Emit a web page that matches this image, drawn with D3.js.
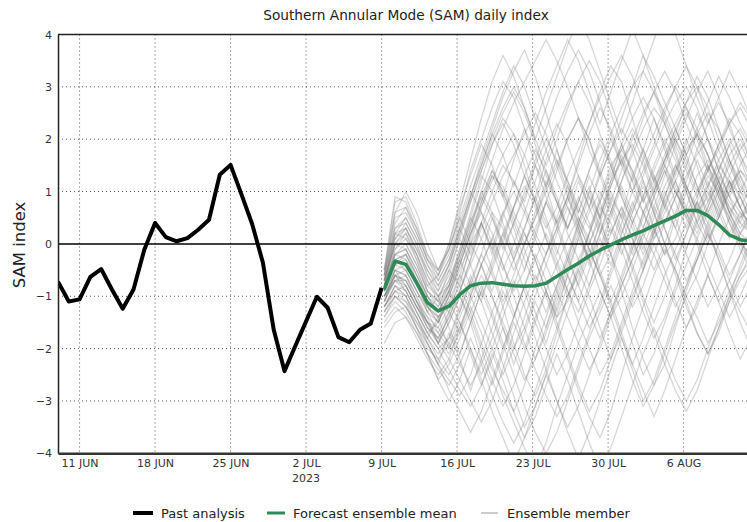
<!DOCTYPE html>
<html><head><meta charset="utf-8">
<script src="https://cdn.jsdelivr.net/npm/d3@7"></script>
<style>body{margin:0;background:#fff}svg{display:block;font-family:"DejaVu Sans",sans-serif}</style>
</head><body><svg id="c" width="747" height="522"></svg>
<script>
const title = "Southern Annular Mode (SAM) daily index";
const yLabel = "SAM index";
const yTicks = [-4,-3,-2,-1,0,1,2,3,4];
const xTickDates = ["2023-06-11","2023-06-18","2023-06-25","2023-07-02","2023-07-09","2023-07-16","2023-07-23","2023-07-30","2023-08-06"];
const xTickLabels = ["11 JUN","18 JUN","25 JUN","2 JUL","9 JUL","16 JUL","23 JUL","30 JUL","6 AUG"];
const pastStart = "2023-06-09T00:00Z";
const pastValues = [-0.72,-1.10,-1.06,-0.63,-0.48,-0.87,-1.24,-0.87,-0.11,0.40,0.13,0.05,0.11,0.27,0.46,1.32,1.51,0.95,0.38,-0.36,-1.64,-2.43,-1.95,-1.48,-1.01,-1.22,-1.78,-1.88,-1.64,-1.52,-0.84];
const fcStart = "2023-07-09T06:00Z";
const meanValues = [-0.87,-0.33,-0.39,-0.74,-1.12,-1.28,-1.19,-0.97,-0.80,-0.75,-0.74,-0.77,-0.80,-0.81,-0.80,-0.75,-0.62,-0.49,-0.37,-0.23,-0.12,-0.02,0.08,0.17,0.25,0.35,0.44,0.53,0.64,0.64,0.54,0.37,0.17,0.08,0.05];
const members = [
[-0.9,-0.2,-0.1,-0.5,-1.0,-1.4,-1.2,-0.6,0.1,0.8,1.3,1.1,0.6,0.2,-0.3,-0.9,-1.4,-1.1,-0.5,0.2,0.9,1.5,1.8,1.4,0.9,0.3,-0.2,0.1,0.7,1.3,1.6,1.2,0.6,0.1,-0.3],
[-0.7,0.1,0.4,0.0,-0.6,-1.0,-0.8,-0.2,0.5,1.2,1.9,2.4,2.1,1.5,0.8,0.1,-0.4,-0.9,-1.3,-0.8,-0.1,0.6,1.2,1.7,2.2,2.6,2.3,1.8,1.1,0.6,0.9,1.4,1.9,2.2,1.8],
[-1.2,-0.8,-0.9,-1.3,-1.7,-2.0,-1.8,-1.3,-0.7,-0.2,-0.6,-1.2,-1.9,-2.5,-2.9,-2.4,-1.7,-1.0,-0.4,0.2,0.7,0.4,-0.1,-0.7,-1.3,-1.8,-1.4,-0.8,-0.1,0.5,1.1,1.5,1.2,0.7,0.3],
[-0.5,0.6,1.0,0.6,0.0,-0.5,-0.1,0.6,1.4,2.0,2.6,3.1,2.8,2.2,1.5,0.9,0.4,0.9,1.6,2.3,2.9,3.4,3.1,2.4,1.7,1.2,1.6,2.1,2.7,3.2,2.8,2.2,1.6,1.1,0.8],
[-1.0,-0.6,-0.8,-1.2,-1.5,-1.6,-1.2,-0.8,-1.3,-1.9,-2.4,-2.8,-3.2,-2.7,-2.0,-1.4,-0.8,-0.3,0.3,0.9,0.5,-0.2,-0.9,-1.6,-2.2,-2.7,-2.3,-1.6,-0.9,-0.3,0.2,-0.3,-0.9,-1.5,-2.0],
[-0.8,-0.3,-0.2,-0.6,-1.1,-1.3,-0.9,-0.4,0.2,0.6,0.2,-0.4,-0.9,-0.5,0.1,0.8,1.4,2.0,2.4,2.0,1.3,0.7,0.2,0.7,1.3,1.8,2.3,2.7,3.0,2.6,2.0,1.4,0.9,0.6,0.4],
[-1.1,-0.5,-0.6,-1.0,-1.5,-1.9,-2.2,-2.6,-3.0,-3.4,-3.0,-2.4,-1.7,-1.1,-0.6,-1.0,-1.6,-2.2,-2.8,-3.3,-3.7,-3.2,-2.5,-1.8,-1.2,-0.6,-0.1,-0.5,-1.1,-1.7,-2.1,-1.6,-1.0,-0.4,0.1],
[-0.6,0.3,0.5,0.1,-0.4,-0.7,-0.3,0.3,0.9,1.6,2.2,2.8,3.3,3.7,3.2,2.5,1.8,1.1,0.5,0.0,0.5,1.1,1.6,1.2,0.6,0.1,0.4,0.9,1.5,2.1,2.5,2.2,1.6,1.0,0.6],
[-1.3,-1.0,-1.1,-1.4,-1.8,-2.2,-2.5,-2.1,-1.5,-0.9,-0.3,0.2,0.7,1.1,0.7,0.1,-0.5,-1.0,-0.6,0.0,0.6,1.2,1.6,1.9,1.5,0.9,0.3,-0.3,0.2,0.8,1.3,1.0,0.4,-0.1,-0.5],
[-0.9,-0.4,-0.5,-0.9,-1.3,-1.5,-1.0,-0.5,0.0,-0.4,-1.0,-1.6,-2.1,-2.6,-2.2,-1.6,-1.0,-0.4,0.2,0.7,1.3,1.8,2.2,1.8,1.2,0.6,0.0,-0.5,-1.0,-0.6,0.0,0.6,1.1,1.4,1.2],
[-0.7,0.2,0.3,-0.2,-0.7,-1.1,-1.3,-0.9,-0.3,0.4,1.0,1.5,1.2,0.7,0.2,-0.2,0.3,0.9,1.5,2.1,2.6,2.2,1.6,1.0,1.4,1.9,2.5,3.0,3.4,3.0,2.4,1.8,1.3,0.9,0.5],
[-1.0,-0.7,-0.7,-1.1,-1.6,-1.8,-1.4,-0.9,-0.4,0.1,0.6,0.3,-0.3,-0.9,-1.5,-2.0,-2.5,-2.1,-1.5,-0.9,-0.4,0.2,0.7,0.3,-0.2,0.3,0.9,1.4,1.8,2.1,1.7,1.1,0.6,0.2,0.0],
[-0.8,0.0,0.0,-0.4,-0.9,-1.2,-0.8,-0.1,0.6,1.3,1.0,0.4,-0.2,0.3,0.9,1.6,2.2,2.7,3.1,2.7,2.1,1.5,0.9,0.4,0.9,1.5,2.0,1.6,1.0,0.4,0.0,0.5,1.0,1.5,1.9],
[-1.4,-1.1,-1.3,-1.7,-2.1,-2.4,-2.7,-2.3,-1.8,-2.3,-2.9,-3.4,-3.8,-3.4,-2.8,-2.2,-1.6,-1.0,-0.5,-1.0,-1.6,-2.2,-1.7,-1.1,-0.5,0.1,0.6,1.0,0.6,0.0,-0.6,-1.1,-0.7,-0.2,0.3],
[-0.6,0.4,0.7,0.3,-0.2,-0.5,0.0,0.7,1.3,1.9,1.5,0.9,0.3,-0.3,-0.8,-1.3,-0.8,-0.2,0.4,1.0,1.6,2.1,2.6,3.0,3.3,2.9,2.3,1.7,1.1,0.7,1.1,1.6,2.0,1.6,1.1],
[-0.9,-0.5,-0.4,-0.8,-1.2,-1.4,-1.1,-1.5,-2.0,-2.5,-2.0,-1.4,-0.8,-0.2,0.3,0.8,0.4,-0.2,-0.8,-1.3,-1.8,-1.3,-0.7,-0.1,0.5,1.0,1.5,1.1,0.5,0.9,1.4,1.9,2.3,2.6,2.2],
[-1.1,-0.6,-0.9,-1.3,-1.7,-1.5,-1.0,-0.4,0.2,0.7,1.2,1.7,2.1,1.7,1.1,0.5,-0.1,-0.6,-1.1,-1.6,-1.2,-0.6,0.0,0.6,1.1,0.6,0.0,-0.6,-1.2,-1.7,-2.1,-1.7,-1.1,-0.6,-0.2],
[-0.5,0.8,0.9,0.4,-0.2,-0.6,-0.2,0.4,1.0,0.6,0.0,-0.5,0.0,0.6,1.2,1.8,2.3,1.9,1.3,0.7,0.2,0.6,1.2,1.8,2.4,2.9,3.3,2.9,2.3,1.8,1.4,1.8,2.3,2.7,2.4],
[-1.2,-0.9,-1.0,-1.4,-1.8,-2.1,-1.8,-1.2,-0.6,-1.1,-1.7,-2.3,-2.9,-3.5,-3.1,-2.5,-1.9,-1.3,-0.7,-0.1,-0.6,-1.2,-1.8,-2.4,-3.0,-2.6,-2.0,-1.4,-0.8,-0.3,0.2,-0.2,-0.7,-1.2,-0.8],
[-0.8,-0.1,0.1,-0.3,-0.8,-1.0,-0.6,0.1,0.8,1.4,2.0,2.5,2.9,2.5,1.9,1.3,0.8,0.3,0.8,1.4,2.0,1.6,1.0,0.5,0.0,-0.5,0.0,0.6,1.2,1.8,2.3,2.7,2.3,1.7,1.2],
[-1.0,-0.5,-0.6,-1.0,-1.4,-1.6,-1.9,-2.3,-2.7,-2.3,-1.8,-1.2,-0.7,-1.2,-1.8,-2.4,-3.0,-3.5,-3.1,-2.5,-1.9,-1.3,-0.8,-0.3,0.2,0.7,0.3,-0.2,-0.7,-0.3,0.3,0.8,1.2,0.9,0.4],
[-0.7,0.0,0.2,-0.2,-0.7,-1.0,-0.7,-0.2,0.4,0.9,1.4,1.0,0.5,0.0,0.5,1.1,1.6,1.2,0.7,0.3,0.8,1.3,1.8,2.2,1.8,1.3,0.8,1.2,1.7,2.1,1.7,1.2,0.8,0.5,0.7],
[-1.5,-1.2,-1.4,-1.8,-2.2,-2.5,-2.2,-1.6,-1.0,-0.4,0.1,-0.4,-1.0,-1.6,-2.2,-1.7,-1.1,-0.5,0.1,0.6,1.0,0.6,0.1,-0.5,-1.1,-1.7,-2.3,-2.8,-3.2,-2.8,-2.2,-1.6,-1.1,-0.7,-0.4],
[-0.8,-0.2,-0.3,-0.7,-1.1,-1.3,-0.9,-0.3,0.3,0.9,0.5,-0.1,0.4,1.0,1.6,2.2,2.8,3.3,3.7,3.3,2.7,2.1,1.5,1.0,0.6,1.0,1.5,2.0,2.5,2.1,1.5,0.9,0.4,0.0,-0.2],
[-1.0,-0.6,-0.5,-0.9,-1.3,-1.7,-2.0,-1.6,-1.1,-0.6,-1.0,-1.5,-2.0,-1.6,-1.0,-0.4,0.2,0.7,0.3,-0.3,-0.9,-1.4,-1.0,-0.5,0.1,0.6,1.1,1.5,1.1,0.6,0.1,0.5,1.0,1.4,1.1],
[-0.6,0.5,0.6,0.2,-0.3,-0.5,-0.1,0.5,1.1,1.7,2.3,2.9,3.4,3.0,2.4,1.8,1.2,0.7,0.2,-0.3,0.2,0.8,1.4,2.0,2.5,2.9,2.5,2.0,1.5,1.0,1.4,1.9,2.4,2.1,1.6],
[-1.2,-0.8,-1.0,-1.4,-1.9,-2.3,-2.6,-2.9,-2.5,-1.9,-1.3,-0.8,-0.3,0.2,-0.3,-0.9,-1.5,-2.1,-2.7,-3.2,-2.8,-2.2,-1.6,-1.0,-0.5,0.0,-0.5,-1.1,-1.6,-1.2,-0.6,0.0,0.5,0.1,-0.4],
[-0.9,-0.3,-0.2,-0.6,-1.0,-1.2,-0.7,-0.1,0.5,0.1,-0.5,-1.1,-0.6,0.0,0.6,1.2,0.8,0.2,-0.3,0.2,0.8,1.4,1.9,2.4,2.8,2.4,1.8,1.2,0.7,0.3,0.7,1.2,1.7,2.0,1.6],
[-1.3,-1.0,-1.2,-1.6,-2.0,-2.2,-1.9,-1.4,-0.9,-0.4,0.1,0.6,1.0,0.6,0.1,-0.4,-0.9,-1.4,-1.9,-2.4,-2.0,-1.4,-0.8,-0.3,0.2,-0.2,-0.7,-1.2,-0.8,-0.2,0.4,0.9,0.5,0.0,-0.4],
[-0.7,0.3,0.4,0.0,-0.5,-0.8,-0.4,0.2,0.8,1.4,1.9,2.3,1.9,1.3,0.8,0.3,0.7,1.3,1.8,2.3,2.8,3.2,3.6,3.2,2.6,2.0,1.5,1.0,0.6,1.0,1.5,1.1,0.6,0.2,0.5],
[-1.1,-0.7,-0.8,-1.2,-1.6,-1.9,-1.5,-1.0,-1.4,-2.0,-2.6,-3.1,-2.7,-2.1,-1.5,-0.9,-0.4,0.1,0.5,0.1,-0.5,-1.1,-1.7,-2.3,-1.8,-1.2,-0.6,-0.1,0.4,0.8,0.4,-0.1,-0.6,-0.2,0.3],
[-0.9,-0.4,-0.3,-0.7,-1.2,-1.4,-1.0,-0.4,0.2,0.8,1.4,1.0,0.4,0.9,1.5,2.0,1.6,1.0,0.4,-0.1,-0.6,-0.2,0.4,1.0,1.6,2.1,2.6,3.0,2.6,2.0,1.4,0.9,1.3,1.8,2.1],
[-1.6,-1.3,-1.2,-1.5,-1.9,-2.3,-2.8,-3.2,-3.6,-3.2,-2.6,-2.0,-1.4,-0.8,-0.3,0.2,-0.3,-0.9,-1.5,-2.0,-2.5,-2.1,-1.5,-0.9,-0.3,0.2,0.7,0.3,-0.2,-0.7,-1.2,-0.8,-0.3,0.2,0.6],
[-0.8,0.1,0.3,-0.1,-0.6,-0.9,-0.5,0.1,-0.4,-1.0,-0.5,0.1,0.7,1.3,1.8,1.4,0.8,0.3,0.8,1.4,1.9,1.5,0.9,0.4,0.9,1.4,1.9,2.3,2.7,3.0,2.6,2.0,1.5,1.0,0.8],
[-1.0,-0.6,-0.7,-1.1,-1.5,-1.7,-1.3,-0.7,-0.1,0.4,-0.1,-0.7,-1.3,-1.9,-2.4,-2.9,-3.3,-2.9,-2.3,-1.7,-1.1,-0.5,0.1,-0.4,-1.0,-1.5,-1.0,-0.4,0.2,0.7,0.3,-0.3,-0.9,-0.5,0.0],
[-0.5,0.9,0.8,0.3,-0.3,-0.7,-0.3,0.3,0.9,1.5,2.1,2.6,3.0,2.6,2.0,1.5,2.0,2.6,3.1,3.5,3.1,2.5,1.9,1.3,0.8,1.2,1.7,2.2,2.6,2.2,1.7,1.2,0.7,0.4,0.2],
[-1.2,-0.9,-0.8,-1.2,-1.6,-1.8,-2.1,-1.7,-1.2,-1.7,-2.3,-2.9,-3.4,-3.9,-4.3,-3.8,-3.1,-2.5,-1.9,-1.4,-0.9,-1.4,-2.0,-2.6,-3.1,-2.7,-2.1,-1.5,-1.0,-1.4,-1.9,-1.5,-1.0,-0.6,-0.3],
[-0.8,-0.2,0.0,-0.4,-0.9,-1.1,-0.8,-0.2,0.4,1.0,0.6,0.0,-0.5,0.0,0.5,1.0,1.5,2.0,2.4,2.0,1.4,0.8,0.3,-0.2,0.3,0.9,1.4,1.0,0.5,0.1,0.6,1.1,0.7,0.3,0.6],
[-1.1,-0.6,-0.7,-1.1,-1.5,-1.8,-1.4,-0.9,-0.3,0.3,0.8,1.3,1.7,2.1,2.5,2.1,1.5,0.9,0.4,-0.1,-0.6,-1.1,-0.6,0.0,0.6,1.1,1.6,2.0,1.6,1.1,0.6,1.0,1.5,1.9,1.5],
[-0.9,-0.3,-0.4,-0.8,-1.2,-1.5,-1.1,-0.6,-1.0,-1.5,-2.0,-2.5,-2.0,-1.4,-0.8,-0.2,0.3,0.8,1.3,0.9,0.3,-0.2,-0.7,-1.2,-0.8,-0.2,0.4,0.9,1.3,1.7,2.0,1.6,1.1,0.7,0.3],
[-0.6,0.6,0.7,0.2,-0.3,-0.6,0.0,0.8,1.6,2.4,3.1,3.6,3.2,2.6,2.0,2.6,3.2,3.8,4.3,3.9,3.3,2.7,2.1,2.7,3.3,3.9,4.4,4.0,3.4,2.8,2.3,2.8,3.3,2.9,2.4],
[-1.3,-0.9,-1.1,-1.6,-2.1,-2.6,-3.0,-2.6,-2.0,-2.6,-3.2,-3.7,-4.2,-3.7,-3.1,-2.5,-3.0,-3.6,-4.1,-3.6,-3.0,-2.4,-1.8,-2.3,-2.8,-3.3,-2.8,-2.2,-1.6,-1.1,-0.6,-1.1,-1.7,-2.2,-1.8],
[-0.8,0.2,0.5,0.1,-0.4,-0.8,-0.4,0.2,0.9,1.5,2.1,1.7,1.1,1.7,2.3,2.9,3.4,3.9,3.5,2.9,2.3,2.9,3.5,4.1,3.6,3.0,2.4,1.9,2.4,2.9,3.3,2.8,2.2,1.7,1.3],
[-1.0,-0.7,-0.9,-1.3,-1.7,-2.0,-2.4,-2.8,-3.1,-2.7,-2.1,-2.6,-3.2,-3.7,-3.3,-2.7,-2.1,-2.6,-3.2,-3.8,-4.3,-3.9,-3.3,-2.7,-2.1,-1.6,-2.1,-2.6,-3.0,-2.6,-2.0,-1.4,-0.9,-1.3,-1.7],
[-0.7,0.0,-0.1,-0.5,-1.0,-1.3,-0.9,-0.3,0.3,1.0,1.6,2.2,2.7,3.1,3.5,3.9,3.5,3.0,2.4,1.8,1.3,1.8,2.4,3.0,3.6,3.2,2.7,2.2,1.7,2.2,2.7,3.2,2.8,2.3,1.9],
[-1.9,-1.5,-1.4,-1.7,-2.1,-2.6,-2.3,-1.8,-1.3,-0.8,-1.3,-1.9,-2.5,-3.1,-3.6,-4.0,-3.6,-3.0,-2.4,-1.8,-1.3,-0.8,-1.3,-1.9,-2.5,-2.1,-1.5,-0.9,-0.4,0.1,-0.4,-0.9,-1.4,-1.0,-0.5],
[-0.9,-0.1,0.2,-0.3,-0.9,-1.1,-0.5,-0.8,0.0,0.4,-0.2,0.5,1.2,0.8,1.5,1.1,0.4,0.9,0.3,-0.4,0.2,0.9,0.5,1.3,1.8,1.2,0.7,1.4,2.0,1.5,0.8,1.2,0.6,0.9,0.4],
[-1.1,-0.7,-0.6,-1.1,-1.4,-1.9,-1.3,-1.7,-1.0,-0.4,-0.9,-0.2,0.4,-0.1,-0.7,-0.2,0.5,1.1,0.6,1.3,0.8,0.2,0.7,0.1,-0.5,0.2,0.8,0.3,1.0,1.6,1.1,0.5,1.2,0.7,1.1],
[-0.8,-0.4,-0.2,-0.7,-1.3,-1.0,-1.6,-2.1,-1.5,-2.2,-1.6,-0.9,-1.4,-0.8,-0.2,-0.7,-1.3,-0.6,0.1,-0.3,0.4,1.0,0.5,-0.1,0.6,0.2,0.9,1.5,1.0,0.4,0.8,1.4,0.9,1.3,0.8],
[-0.6,0.2,0.1,-0.2,-0.8,-0.6,-0.1,0.5,0.0,0.7,1.3,0.9,1.6,2.2,1.7,1.1,1.8,1.2,0.6,1.1,0.5,1.2,1.9,1.4,0.8,1.3,0.7,1.2,0.6,0.2,0.7,1.3,0.9,0.4,0.9],
[-1.2,-0.8,-1.0,-1.5,-1.8,-1.4,-2.0,-1.5,-2.1,-2.7,-2.2,-1.6,-2.3,-1.7,-1.1,-1.6,-0.9,-0.3,-0.8,-0.2,0.4,-0.1,0.6,0.1,-0.4,0.3,-0.2,0.5,1.1,0.6,1.2,0.7,0.2,0.6,0.1],
[-0.9,-0.3,-0.5,-0.9,-1.2,-1.5,-0.9,-1.3,-0.7,-1.1,-0.4,0.2,-0.3,0.3,0.9,0.4,-0.2,0.5,1.2,0.7,1.4,2.0,1.5,2.1,1.6,1.0,1.6,2.2,1.7,1.1,0.5,1.0,1.6,1.2,0.7],
[-1.0,-0.5,-0.8,-1.2,-1.5,-1.9,-1.5,-1.0,-1.5,-0.9,-1.4,-2.0,-1.4,-0.8,-1.3,-1.9,-1.2,-0.6,-1.1,-0.5,0.1,-0.4,0.2,0.8,0.3,0.9,1.4,0.8,0.3,0.8,0.2,0.7,1.2,0.7,0.2],
[-0.7,0.0,0.3,-0.1,-0.5,-0.9,-0.4,0.3,-0.2,0.4,-0.1,0.6,0.1,-0.5,0.2,0.8,0.3,-0.3,0.4,1.0,0.5,1.1,1.7,1.2,1.8,2.4,1.9,1.3,1.9,2.5,2.0,1.4,1.9,1.3,0.9],
[-1.4,-1.0,-1.2,-1.6,-1.9,-2.3,-1.7,-2.2,-2.8,-2.2,-2.7,-2.1,-1.5,-2.0,-1.4,-0.9,-1.4,-0.8,-0.3,-0.8,-0.2,0.3,-0.2,0.4,-0.1,0.5,1.0,0.5,-0.1,0.4,1.0,0.6,0.1,0.5,0.9],
[-0.8,-0.2,-0.1,-0.6,-1.0,-1.3,-0.8,-0.3,-0.8,-0.2,0.5,0.0,0.7,1.3,0.8,1.4,0.9,0.3,0.9,0.4,-0.2,0.5,1.1,0.6,1.2,0.7,1.3,1.9,1.4,0.9,1.5,1.0,0.5,1.0,1.4]
];
const legendLabels = ["Past analysis","Forecast ensemble mean","Ensemble member"];

const svg = d3.select("#c");
const L = 58, R = 748.3, T = 34.5, B = 453.3;
const x = d3.scaleUtc().domain([new Date("2023-06-09T00:00Z"), new Date("2023-08-12T00:00Z")]).range([L, R]);
const y = d3.scaleLinear().domain([-4, 4]).range([B, T]);
const day = 864e5;
const pastPts = pastValues.map((v,i)=>[new Date(+new Date(pastStart)+i*day), v]);
const fc0 = +new Date(fcStart);
const meanPts = meanValues.map((v,i)=>[new Date(fc0+i*day), v]);

svg.append("defs").append("clipPath").attr("id","clip").append("rect")
  .attr("x",L).attr("y",T).attr("width",R-L).attr("height",B-T);

// grid
const g = svg.append("g");
g.selectAll(".vg").data(xTickDates).join("line")
  .attr("x1",d=>x(new Date(d+"T00:00Z"))).attr("x2",d=>x(new Date(d+"T00:00Z")))
  .attr("y1",T).attr("y2",B).attr("stroke","#555").attr("stroke-width",1).attr("stroke-dasharray","1,3");
g.selectAll(".hg").data(yTicks.filter(v=>v!==0 && v!==4 && v!==-4)).join("line")
  .attr("x1",L).attr("x2",R).attr("y1",d=>y(d)).attr("y2",d=>y(d))
  .attr("stroke","#555").attr("stroke-width",1).attr("stroke-dasharray","1,3");

const line = d3.line().x(d=>x(d[0])).y(d=>y(d[1]));
const plot = svg.append("g").attr("clip-path","url(#clip)");
plot.selectAll(".mem").data(members).join("path")
  .attr("d", m => line(m.map((v,i)=>[new Date(fc0+i*day), v])))
  .attr("fill","none").attr("stroke","#7a7a7a").attr("stroke-opacity",0.3).attr("stroke-width",1.3);
plot.append("line").attr("x1",L).attr("x2",R).attr("y1",y(0)).attr("y2",y(0)).attr("stroke","#000").attr("stroke-width",1.5);
plot.append("path").attr("d",line(pastPts)).attr("fill","none").attr("stroke","#000").attr("stroke-width",4).attr("stroke-linejoin","round");
plot.append("path").attr("d",line(meanPts)).attr("fill","none").attr("stroke","#2e8b57").attr("stroke-width",3.5).attr("stroke-linejoin","round");

// axes
const yAxis = d3.axisLeft(y).tickValues(yTicks).tickSize(0).tickPadding(6);
const ya = svg.append("g").attr("transform",`translate(${L},0)`).call(yAxis);
ya.select(".domain").attr("stroke","#222").attr("stroke-width",1.5);
ya.selectAll("text").attr("font-size",11).attr("fill","#333").attr("font-family","DejaVu Sans");
const xAxis = d3.axisBottom(x).tickValues(xTickDates.map(d=>new Date(d+"T00:00Z"))).tickSize(0).tickPadding(6)
  .tickFormat((d,i)=>xTickLabels[i]);
const xa = svg.append("g").attr("transform",`translate(0,${B})`).call(xAxis);
xa.select(".domain").attr("stroke","#333").attr("stroke-width",2.5);
xa.selectAll("text").attr("font-size",11).attr("fill","#333").attr("font-family","DejaVu Sans");
svg.append("text").attr("x",x(new Date("2023-07-02T00:00Z"))).attr("y",482).attr("text-anchor","middle")
  .attr("font-size",11).attr("fill","#333").text("2023");
svg.append("line").attr("x1",L).attr("x2",R).attr("y1",T).attr("y2",T).attr("stroke","#222").attr("stroke-width",1.5);
svg.append("line").attr("x1",R).attr("x2",R).attr("y1",T).attr("y2",B).attr("stroke","#222").attr("stroke-width",1.5);

svg.append("text").attr("x",406).attr("y",20).attr("text-anchor","middle").attr("font-size",13.7).attr("fill","#222").text(title);
svg.append("text").attr("transform","translate(25,245) rotate(-90)").attr("text-anchor","middle").attr("font-size",16.5).attr("fill","#222").text(yLabel);

// legend
const leg = [
  {x1:133,x2:153,tx:161,c:"#000",w:4},
  {x1:267,x2:285,tx:293,c:"#2e8b57",w:3},
  {x1:481,x2:498,tx:507,c:"#999",w:1}
];
const lg = svg.append("g");
leg.forEach((d,i)=>{
  lg.append("line").attr("x1",d.x1).attr("x2",d.x2).attr("y1",513).attr("y2",513).attr("stroke",d.c).attr("stroke-width",d.w);
  lg.append("text").attr("x",d.tx).attr("y",518).attr("font-size",13).attr("fill","#222").text(legendLabels[i]);
});
</script></body></html>
